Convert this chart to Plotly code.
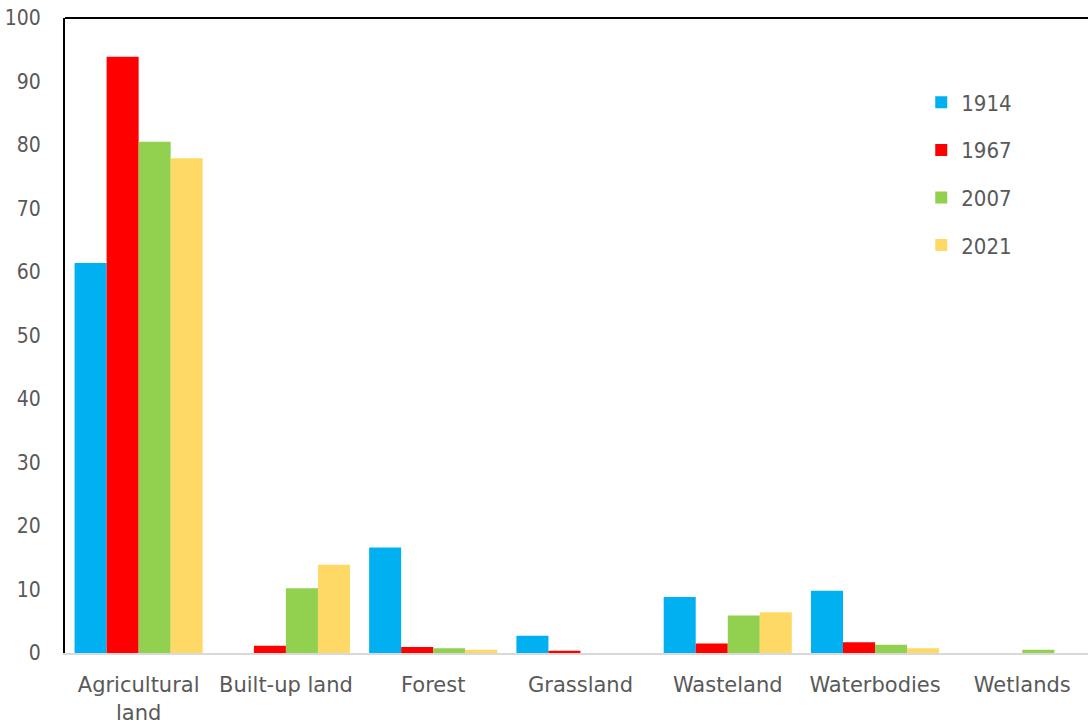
import plotly.graph_objects as go

categories = ["Agricultural<br>land", "Built-up land", "Forest", "Grassland",
              "Wasteland", "Waterbodies", "Wetlands"]
years = ["1914", "1967", "2007", "2021"]
values_1914 = [61.4, 0, 16.6, 2.7, 8.8, 9.8, 0]
values_1967 = [93.9, 1.15, 0.95, 0.35, 1.5, 1.7, 0]
values_2007 = [80.5, 10.2, 0.75, 0, 5.9, 1.3, 0.5]
values_2021 = [77.9, 13.9, 0.5, 0, 6.4, 0.75, 0]
colors = ["#00B0F0", "#FF0000", "#92D050", "#FFD966"]

series = [values_1914, values_1967, values_2007, values_2021]
text_color = "#595959"
condensed = "DejaVu Sans Condensed, DejaVu Sans, sans-serif"
regular = "DejaVu Sans, sans-serif"

fig = go.Figure()
for name, vals, col in zip(years, series, colors):
    fig.add_trace(go.Bar(
        x=categories, y=vals, name=name, legendgroup=name,
        marker=dict(color=col, line=dict(width=0)),
    ))

fig.update_layout(
    width=1088, height=723,
    margin=dict(l=65, r=0, t=18, b=70, autoexpand=False),
    paper_bgcolor="white", plot_bgcolor="white",
    barmode="group", bargap=0.13, bargroupgap=0,
    font=dict(family=condensed, size=20, color=text_color),
    showlegend=True,
    legend=dict(
        x=0.837, y=0.90, xanchor="left", yanchor="top",
        bgcolor="rgba(0,0,0,0)", tracegroupgap=16,
        font=dict(family=condensed, size=22, color=text_color),
        itemwidth=30,
    ),
    xaxis=dict(
        range=[-0.5, 6.446], showgrid=False, zeroline=False,
        showline=True, linecolor="#D9D9D9", linewidth=2,
        ticks="", ticklabelstandoff=12, automargin=False,
        tickfont=dict(family=regular, size=21, color=text_color),
    ),
    yaxis=dict(
        range=[0, 100], dtick=10, showgrid=False, zeroline=False,
        showline=True, linecolor="black", linewidth=2,
        ticks="", ticklabelstandoff=18, automargin=False,
        tickfont=dict(family=condensed, size=21, color=text_color),
    ),
)

# black border along the top of the plotting area
fig.add_shape(type="line", xref="paper", yref="paper",
              x0=0, x1=1, y0=1, y1=1,
              line=dict(color="black", width=2))

fig.write_html("out.html")
